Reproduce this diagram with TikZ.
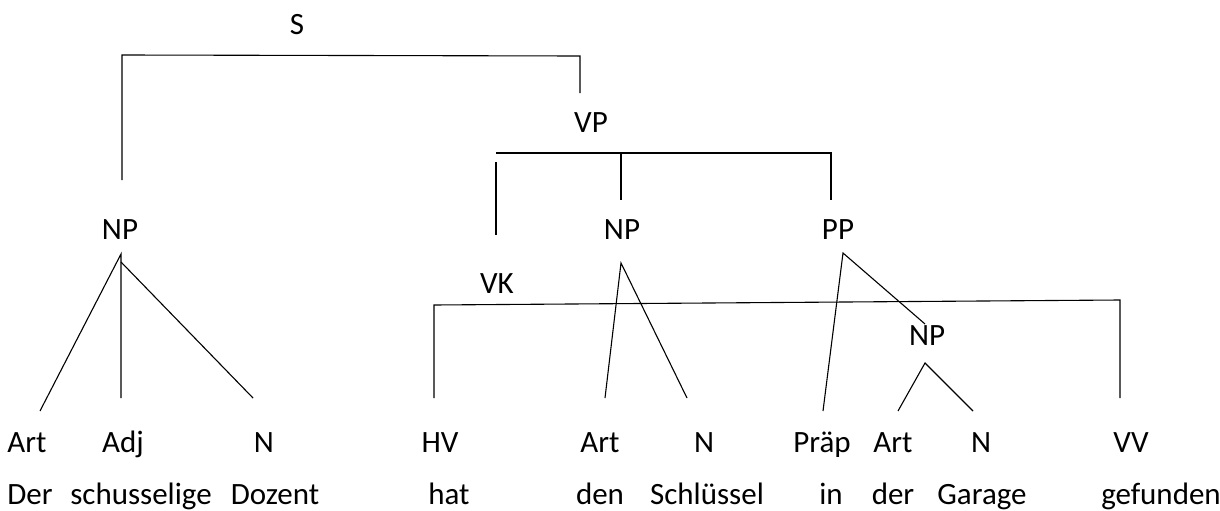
\documentclass[tikz,border=0pt]{standalone}
\usepackage{fontspec}
\setmainfont{Carlito}
\begin{document}
\begin{tikzpicture}[x=1pt,y=-1pt,
  lbl/.style={anchor=base,inner sep=0pt,font=\fontsize{31}{37}\selectfont},
  edge/.style={draw=black,line width=1.1pt}]
\useasboundingbox (0,0) rectangle (1220,511);
% category labels
\node[lbl] (S) at (297,35) {S};
\node[lbl] (VP) at (591,132) {VP};
\node[lbl] (NP1) at (120,239) {NP};
\node[lbl] (NP2) at (622,239) {NP};
\node[lbl] (PP) at (838,239) {PP};
\node[lbl] (VK) at (497,293) {VK};
\node[lbl] (NP3) at (927,345) {NP};
% preterminals
\node[lbl] (art1) at (27,452) {Art};
\node[lbl] (adj) at (123,452) {Adj};
\node[lbl] (n1) at (264,452) {N};
\node[lbl] (hv) at (440,452) {HV};
\node[lbl] (art2) at (600,452) {Art};
\node[lbl] (n2) at (704,452) {N};
\node[lbl] (praep) at (822,452) {Präp};
\node[lbl] (art3) at (893,452) {Art};
\node[lbl] (n3) at (981,452) {N};
\node[lbl] (vv) at (1131,452) {VV};
% words
\node[lbl] (w1) at (30,504) {Der};
\node[lbl] (w2) at (141,504) {schusselige};
\node[lbl] (w3) at (275,504) {Dozent};
\node[lbl] (w4) at (449,504) {hat};
\node[lbl] (w5) at (600,504) {den};
\node[lbl] (w6) at (707,504) {Schlüssel};
\node[lbl] (w7) at (831,504) {in};
\node[lbl] (w8) at (893,504) {der};
\node[lbl] (w9) at (982,504) {Garage};
\node[lbl] (w10) at (1161,504) {gefunden};
% connector points
\coordinate (sL) at (122,55);
\coordinate (sR) at (580,56);
\coordinate (sLb) at (122,180);
\coordinate (sRb) at (580,93);
\coordinate (vpL) at (496,153);
\coordinate (vpM) at (621,153);
\coordinate (vpR) at (831,153);
\coordinate (vpLt) at (496,162);
\coordinate (vpLb) at (496,235);
\coordinate (vpMb) at (621,200);
\coordinate (vpRb) at (831,200);
\coordinate (vkL) at (434,305);
\coordinate (vkR) at (1120,300);
\coordinate (vkLb) at (434,398);
\coordinate (vkRb) at (1120,398);
\coordinate (np1a) at (121,254);
\coordinate (np1b) at (121,262);
\coordinate (np1x) at (40,411);
\coordinate (np1y) at (121,398);
\coordinate (np1z) at (253,398);
\coordinate (np2a) at (621,263);
\coordinate (np2x) at (605,398);
\coordinate (np2y) at (687,398);
\coordinate (ppa) at (843,253);
\coordinate (ppx) at (823,411);
\coordinate (ppy) at (925,324);
\coordinate (np3a) at (925,363);
\coordinate (np3x) at (898,411);
\coordinate (np3y) at (973,411);
% connectors
\draw[edge] (sLb) -- (sL) -- (sR) -- (sRb);
\draw[edge] (vpL) -- (vpR) -- (vpRb);
\draw[edge] (vpM) -- (vpMb);
\draw[edge] (vpLt) -- (vpLb);
\draw[edge] (vkLb) -- (vkL) -- (vkR) -- (vkRb);
\draw[edge] (np1x) -- (np1a) -- (np1y);
\draw[edge] (np1b) -- (np1z);
\draw[edge] (np2x) -- (np2a) -- (np2y);
\draw[edge] (ppx) -- (ppa) -- (ppy);
\draw[edge] (np3x) -- (np3a) -- (np3y);
\end{tikzpicture}
\end{document}
